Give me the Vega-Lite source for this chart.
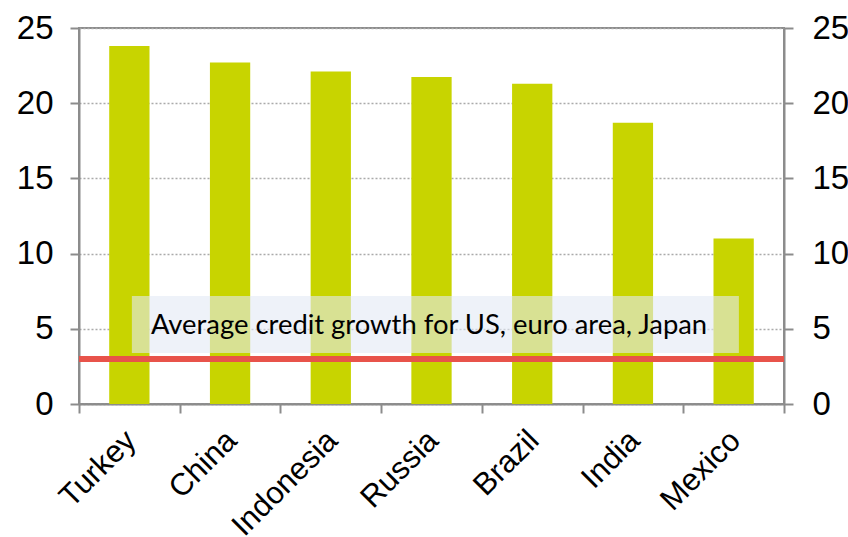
{
  "$schema": "https://vega.github.io/schema/vega-lite/v6.json",
  "width": 705,
  "height": 376,
  "autosize": "none",
  "padding": {"left": 79, "top": 28, "right": 64, "bottom": 133},
  "background": "white",
  "config": {
    "view": {"stroke": "#8c8c8c", "strokeWidth": 2},
    "axis": {"domainColor": "#8c8c8c", "domainWidth": 2, "tickColor": "#8c8c8c", "tickWidth": 2, "labelColor": "black", "labelFont": "Liberation Sans"}
  },
  "datasets": {
    "bars": [
      {"country": "Turkey", "value": 23.8},
      {"country": "China", "value": 22.7},
      {"country": "Indonesia", "value": 22.1},
      {"country": "Russia", "value": 21.75},
      {"country": "Brazil", "value": 21.3},
      {"country": "India", "value": 18.7},
      {"country": "Mexico", "value": 11.0}
    ]
  },
  "layer": [
    {
      "data": {"name": "bars"},
      "layer": [
        {
          "mark": {"type": "bar", "color": "#c8d400", "width": {"band": 0.4}},
          "encoding": {
            "x": {"field": "country", "type": "nominal", "sort": null,
              "scale": {"paddingInner": 0, "paddingOuter": 0},
              "axis": {"title": null, "labelAngle": -45, "labelFontSize": 31, "tickBand": "extent", "tickSize": 9, "labelPadding": 12, "labelOffset": -9}},
            "y": {"field": "value", "type": "quantitative",
              "scale": {"domain": [0, 25], "nice": false},
              "axis": {"title": null, "values": [0, 5, 10, 15, 20, 25], "labelFontSize": 33, "tickSize": 9, "labelPadding": 17,
                "grid": true, "gridColor": "#aaaaaa", "gridDash": [2, 2], "gridWidth": 1.5}}
          }
        },
        {
          "mark": {"type": "rule", "color": "#e8534a", "strokeWidth": 5},
          "encoding": {"y": {"datum": 3, "type": "quantitative"}}
        }
      ]
    },
    {
      "data": {"values": [{"label": "Average credit growth for US, euro area, Japan"}]},
      "layer": [
        {
          "mark": {"type": "rect", "color": "#e2eaf5", "opacity": 0.6},
          "encoding": {
            "x": {"datum": 0.075, "type": "quantitative", "scale": {"domain": [0, 1], "nice": false}, "axis": null},
            "x2": {"datum": 0.936},
            "y": {"datum": 7.18, "type": "quantitative",
              "axis": {"orient": "right", "title": null, "values": [0, 5, 10, 15, 20, 25], "labelFontSize": 33, "tickSize": 9, "labelPadding": 19, "grid": false}},
            "y2": {"datum": 3.39}
          }
        },
        {
          "mark": {"type": "text", "align": "left", "baseline": "alphabetic", "font": "Lato", "fontSize": 27.4, "color": "black"},
          "encoding": {
            "x": {"datum": 0.102, "type": "quantitative"},
            "y": {"datum": 4.65, "type": "quantitative"},
            "text": {"field": "label"}
          }
        }
      ]
    }
  ],
  "resolve": {"scale": {"x": "independent"}, "axis": {"x": "independent", "y": "independent"}}
}
